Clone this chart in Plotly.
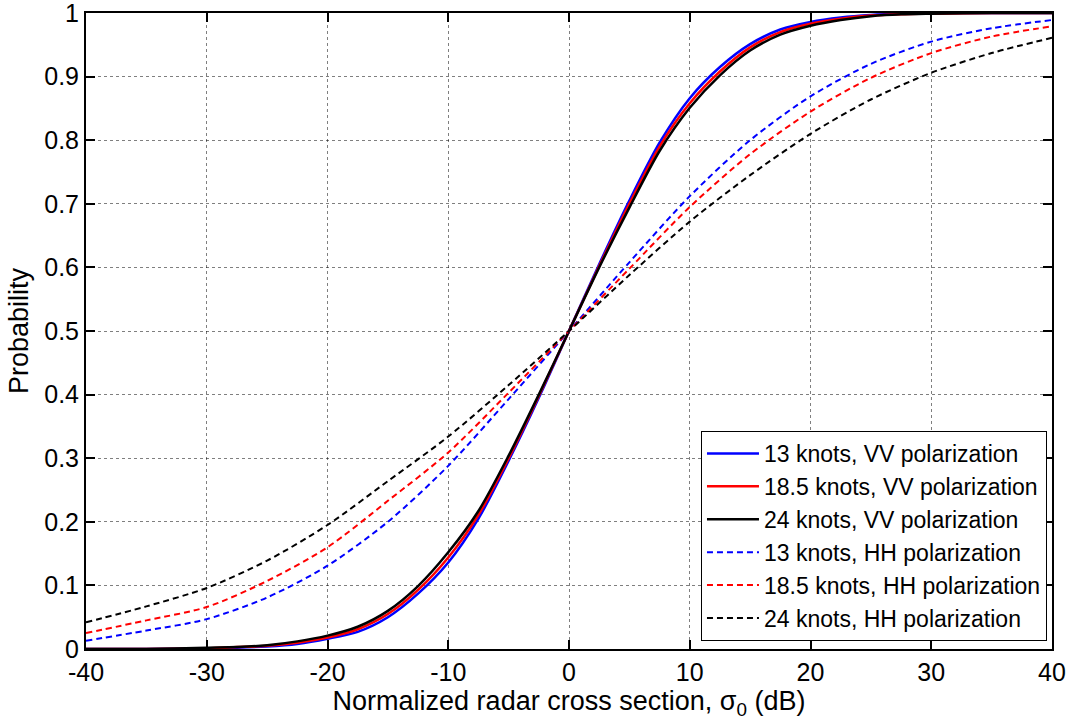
import plotly.graph_objects as go

# ---- data ----
x_vv = [-40, -35, -30, -27.5, -25, -22.5, -20, -17.5, -15, -12.5, -10, -7.5, -5, -2.5, 0,
        2.5, 5, 7.5, 10, 12.5, 15, 17.5, 20, 22.5, 25, 27.5, 30, 35, 40]
vv_13 = [0.0, 0.0, 0.001, 0.002, 0.004, 0.008, 0.016, 0.027, 0.050, 0.087, 0.136, 0.205, 0.296, 0.395, 0.5,
         0.605, 0.705, 0.796, 0.866, 0.915, 0.951, 0.974, 0.986, 0.993, 0.997, 0.999, 1.0, 1.0, 1.0]
vv_185 = [0.0, 0.0, 0.001, 0.003, 0.005, 0.010, 0.018, 0.031, 0.055, 0.093, 0.144, 0.211, 0.300, 0.398, 0.5,
          0.602, 0.700, 0.790, 0.858, 0.908, 0.946, 0.970, 0.983, 0.991, 0.996, 0.998, 0.999, 1.0, 1.0]
vv_24 = [0.0, 0.0, 0.002, 0.003, 0.006, 0.012, 0.021, 0.035, 0.060, 0.099, 0.152, 0.217, 0.304, 0.400, 0.5,
         0.600, 0.694, 0.783, 0.851, 0.902, 0.941, 0.966, 0.980, 0.989, 0.995, 0.998, 0.999, 1.0, 1.0]

x_hh = [-40, -35, -30, -25, -20, -15, -10, -5, 0, 5, 10, 15, 20, 25, 30, 35, 40]
hh_13 = [0.013, 0.029, 0.047, 0.081, 0.131, 0.200, 0.288, 0.393, 0.5, 0.608, 0.712, 0.800, 0.869, 0.920, 0.955, 0.976, 0.989]
hh_185 = [0.025, 0.045, 0.066, 0.107, 0.160, 0.233, 0.309, 0.403, 0.5, 0.598, 0.695, 0.778, 0.845, 0.898, 0.937, 0.963, 0.979]
hh_24 = [0.042, 0.067, 0.096, 0.139, 0.195, 0.264, 0.334, 0.415, 0.5, 0.588, 0.672, 0.745, 0.810, 0.864, 0.906, 0.937, 0.961]

x_ticks = [-40, -30, -20, -10, 0, 10, 20, 30, 40]
y_ticks = [0, 0.1, 0.2, 0.3, 0.4, 0.5, 0.6, 0.7, 0.8, 0.9, 1]
y_tick_labels = ["0", "0.1", "0.2", "0.3", "0.4", "0.5", "0.6", "0.7", "0.8", "0.9", "1"]

series = [
    ("13 knots, VV polarization", x_vv, vv_13, "#0000FF", "solid", 2.5),
    ("18.5 knots, VV polarization", x_vv, vv_185, "#FF0000", "solid", 2.5),
    ("24 knots, VV polarization", x_vv, vv_24, "#000000", "solid", 2.5),
    ("13 knots, HH polarization", x_hh, hh_13, "#0000FF", "6px,4px", 2),
    ("18.5 knots, HH polarization", x_hh, hh_185, "#FF0000", "6px,4px", 2),
    ("24 knots, HH polarization", x_hh, hh_24, "#000000", "6px,4px", 2),
]

FONT = "Liberation Sans, Arial, sans-serif"

fig = go.Figure()
for name, xs, ys, color, dash, w in series:
    fig.add_trace(go.Scatter(
        x=xs, y=ys, mode="lines", name=name,
        line=dict(color=color, width=w, dash=dash, shape="spline", smoothing=0.8),
    ))

axis_common = dict(
    showline=True, linecolor="black", linewidth=2, mirror="allticks",
    ticks="inside", ticklen=9, tickwidth=1.5, tickcolor="black",
    showgrid=True, gridcolor="rgba(0,0,0,0.5)", griddash="dot", gridwidth=1,
    zeroline=False, automargin=False, ticklabeloverflow="allow",
    tickfont=dict(family=FONT, size=25, color="black"),
)

fig.update_xaxes(
    range=[-40, 40], tickvals=x_ticks, ticktext=[str(v) for v in x_ticks],
    title=dict(text="Normalized radar cross section, σ<sub>0</sub> (dB)",
               font=dict(family=FONT, size=27, color="black"), standoff=2),
    **axis_common,
)
fig.update_yaxes(
    range=[0, 1], tickvals=y_ticks, ticktext=y_tick_labels,
    title=dict(text="Probability", font=dict(family=FONT, size=27, color="black"), standoff=8),
    **axis_common,
)

fig.update_layout(
    width=1071, height=721,
    margin=dict(l=86, r=19, t=13, b=72, pad=0),
    paper_bgcolor="white", plot_bgcolor="white",
    font=dict(family=FONT, color="black"),
    showlegend=True,
    legend=dict(
        x=0.9948, y=0.0126, xanchor="right", yanchor="bottom",
        bgcolor="white", bordercolor="black", borderwidth=1,
        font=dict(family=FONT, size=23, color="black"),
        itemwidth=52, tracegroupgap=0,
    ),
)

fig.write_html("out.html")
